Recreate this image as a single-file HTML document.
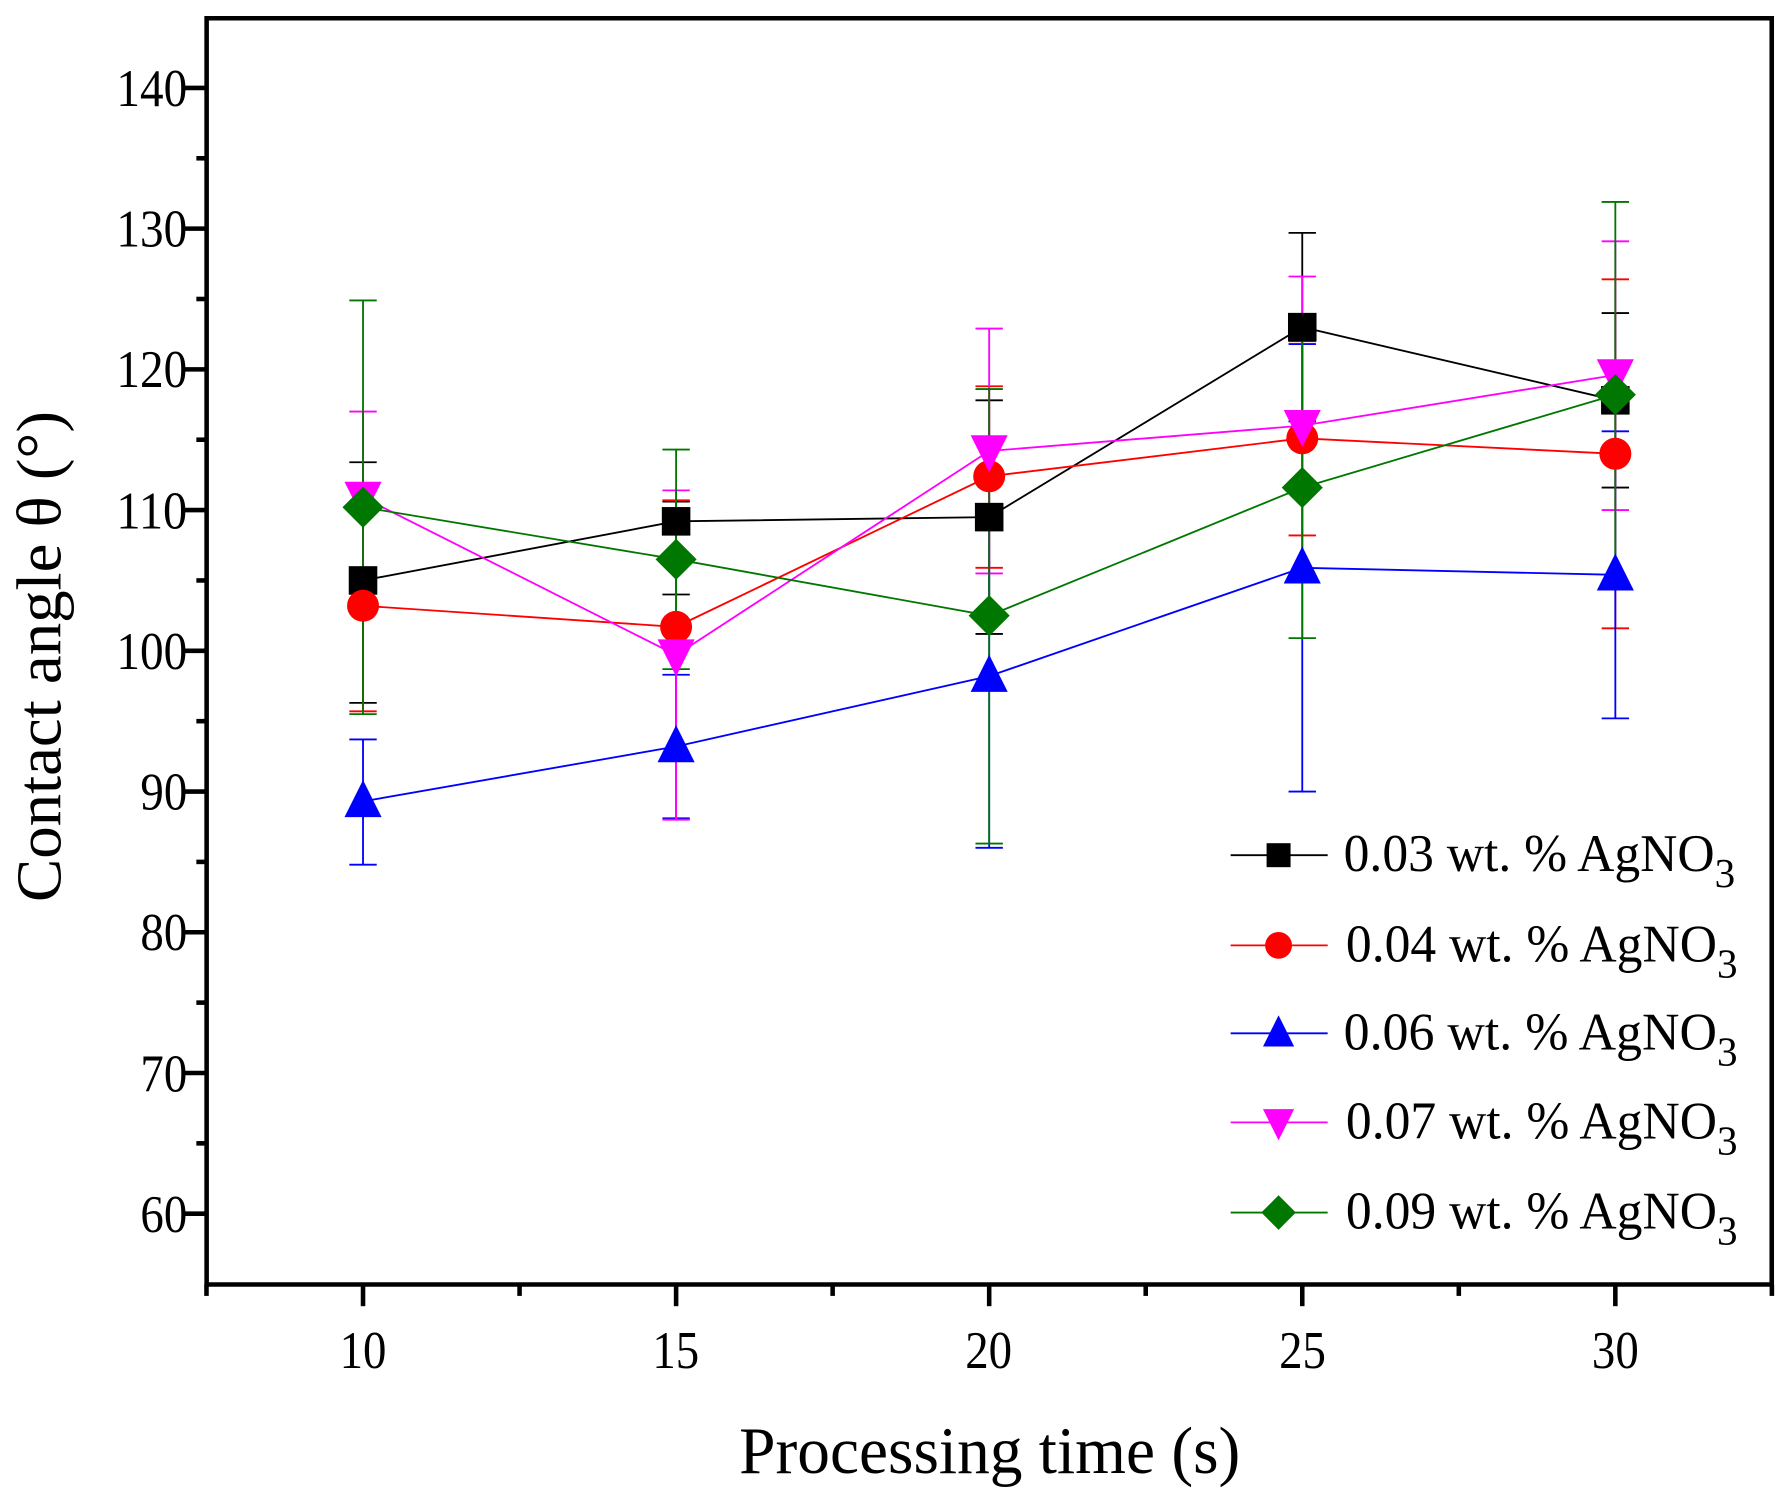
<!DOCTYPE html>
<html><head><meta charset="utf-8"><style>
html,body{margin:0;padding:0;background:#fff;}
svg{display:block;}
text{font-family:"Liberation Serif",serif;fill:#000;}
</style></head><body>
<svg id="s" width="1790" height="1498" viewBox="0 0 1568 1312" preserveAspectRatio="none" xmlns="http://www.w3.org/2000/svg">
<rect width="1568" height="1312" fill="#fff"/>
<g id="data"></g>
<g id="axes" stroke="#000" fill="none">
<path d="M181,16 H1552 V1125 H181 Z" stroke-width="4"/>
</g>
<g font-size="46" text-anchor="end" lengthAdjust="spacingAndGlyphs">
<text x="164" y="93" textLength="62" lengthAdjust="spacingAndGlyphs">140</text>
<text x="164" y="216" textLength="62" lengthAdjust="spacingAndGlyphs">130</text>
<text x="164" y="339" textLength="62" lengthAdjust="spacingAndGlyphs">120</text>
<text x="164" y="463" textLength="62" lengthAdjust="spacingAndGlyphs">110</text>
<text x="164" y="586" textLength="62" lengthAdjust="spacingAndGlyphs">100</text>
<text x="164" y="709" textLength="41" lengthAdjust="spacingAndGlyphs">90</text>
<text x="164" y="832" textLength="41" lengthAdjust="spacingAndGlyphs">80</text>
<text x="164" y="956" textLength="41" lengthAdjust="spacingAndGlyphs">70</text>
<text x="164" y="1079" textLength="41" lengthAdjust="spacingAndGlyphs">60</text>
</g>
<g font-size="46" text-anchor="middle">
<text x="318" y="1198" textLength="41" lengthAdjust="spacingAndGlyphs">10</text>
<text x="592" y="1198" textLength="41" lengthAdjust="spacingAndGlyphs">15</text>
<text x="866" y="1198" textLength="41" lengthAdjust="spacingAndGlyphs">20</text>
<text x="1141" y="1198" textLength="41" lengthAdjust="spacingAndGlyphs">25</text>
<text x="1415" y="1198" textLength="41" lengthAdjust="spacingAndGlyphs">30</text>
</g>
<text x="867" y="1290" font-size="58" text-anchor="middle" textLength="439" lengthAdjust="spacingAndGlyphs">Processing time (s)</text>
<text transform="translate(53,575) rotate(-90)" font-size="56" text-anchor="middle" textLength="430" lengthAdjust="spacingAndGlyphs">Contact angle θ (°)</text>
<g font-size="46">
<text x="1177" y="763"><tspan textLength="325" lengthAdjust="spacingAndGlyphs">0.03 wt. % AgNO</tspan><tspan font-size="36" dy="14">3</tspan></text>
<text x="1179" y="842"><tspan textLength="325" lengthAdjust="spacingAndGlyphs">0.04 wt. % AgNO</tspan><tspan font-size="36" dy="14">3</tspan></text>
<text x="1177" y="919"><tspan textLength="327" lengthAdjust="spacingAndGlyphs">0.06 wt. % AgNO</tspan><tspan font-size="36" dy="14">3</tspan></text>
<text x="1179" y="997"><tspan textLength="325" lengthAdjust="spacingAndGlyphs">0.07 wt. % AgNO</tspan><tspan font-size="36" dy="14">3</tspan></text>
<text x="1179" y="1076"><tspan textLength="325" lengthAdjust="spacingAndGlyphs">0.09 wt. % AgNO</tspan><tspan font-size="36" dy="14">3</tspan></text>
</g>
<g id="leg"></g>
</svg>
<script>
var NS="http://www.w3.org/2000/svg";
function X(x){return 318+(x-10)*54.85;}
function Y(v){return 77+(140-v)*12.325;}
function el(p,t,a){var e=document.createElementNS(NS,t);for(var k in a)e.setAttribute(k,a[k]);p.appendChild(e);return e;}
var ax=document.getElementById('axes');
for(var v=60;v<=140;v+=5){var y=Y(v);var maj=(v%10==0);el(ax,'line',{x1:maj?162:172,x2:181,y1:y,y2:y,'stroke-width':4});}
for(var x=7.5;x<=32.5;x+=2.5){var xx=X(x);var maj=(x%5==0);el(ax,'line',{x1:xx,x2:xx,y1:1125,y2:maj?1144:1135,'stroke-width':4});}
var S=[
{c:'#000',m:'sq',v:[105,109.2,109.5,123,117.8],hi:[113.4,110.6,117.8,129.7,124],lo:[96.3,104,101.2,116.3,111.6]},
{c:'#f00',m:'ci',v:[103.2,101.7,112.4,115.1,114],hi:[110.5,110.7,118.8,122,126.4],lo:[95.7,92.5,105.9,108.2,101.6]},
{c:'#00f',m:'up',v:[89.3,93.2,98.2,105.9,105.4],hi:[93.7,98.3,110.4,121.8,115.6],lo:[84.8,88.1,86,90,95.2]},
{c:'#f0f',m:'dn',v:[110.9,99.7,114.2,116,119.6],hi:[117,111.4,122.9,126.6,129.1],lo:[105.2,88,105.5,105.4,110]},
{c:'#070',m:'di',v:[110.2,106.5,102.5,111.6,118.2],hi:[124.9,114.3,118.6,122.3,131.9],lo:[95.5,98.7,86.3,100.9,104.5]}
];
var xs=[10,15,20,25,30];
var g=document.getElementById('data');
function mk(p,m,c,x,y,s){
 if(m=='sq')el(p,'rect',{x:x-s/2,y:y-s/2,width:s,height:s,fill:c});
 else if(m=='ci')el(p,'circle',{cx:x,cy:y,r:s*0.56,fill:c});
 else if(m=='up')el(p,'polygon',{points:(x-s*0.65)+','+(y+s*0.55)+' '+(x+s*0.65)+','+(y+s*0.55)+' '+x+','+(y-s*0.75),fill:c});
 else if(m=='dn')el(p,'polygon',{points:(x-s*0.65)+','+(y-s*0.55)+' '+(x+s*0.65)+','+(y-s*0.55)+' '+x+','+(y+s*0.75),fill:c});
 else el(p,'polygon',{points:x+','+(y-s*0.72)+' '+(x+s*0.72)+','+y+' '+x+','+(y+s*0.72)+' '+(x-s*0.72)+','+y,fill:c});
}
S.forEach(function(s){
 var pts=s.v.map(function(v,i){return X(xs[i])+','+Y(v);}).join(' ');
 el(g,'polyline',{points:pts,fill:'none',stroke:s.c,'stroke-width':1.6});
 s.v.forEach(function(v,i){var x=X(xs[i]);
  el(g,'line',{x1:x,x2:x,y1:Y(s.hi[i]),y2:Y(s.lo[i]),stroke:s.c,'stroke-width':1.6});
  [s.hi[i],s.lo[i]].forEach(function(e){el(g,'line',{x1:x-12,x2:x+12,y1:Y(e),y2:Y(e),stroke:s.c,'stroke-width':1.6});});
 });
});
S.forEach(function(s){s.v.forEach(function(v,i){mk(g,s.m,s.c,X(xs[i]),Y(v),25);});});
var L=document.getElementById('leg');var ly=[749,828,905,983,1062];
S.forEach(function(s,i){el(L,'line',{x1:1078,x2:1163,y1:ly[i],y2:ly[i],stroke:s.c,'stroke-width':1.6});mk(L,s.m,s.c,1120,ly[i],21);});
</script>
</body></html>
